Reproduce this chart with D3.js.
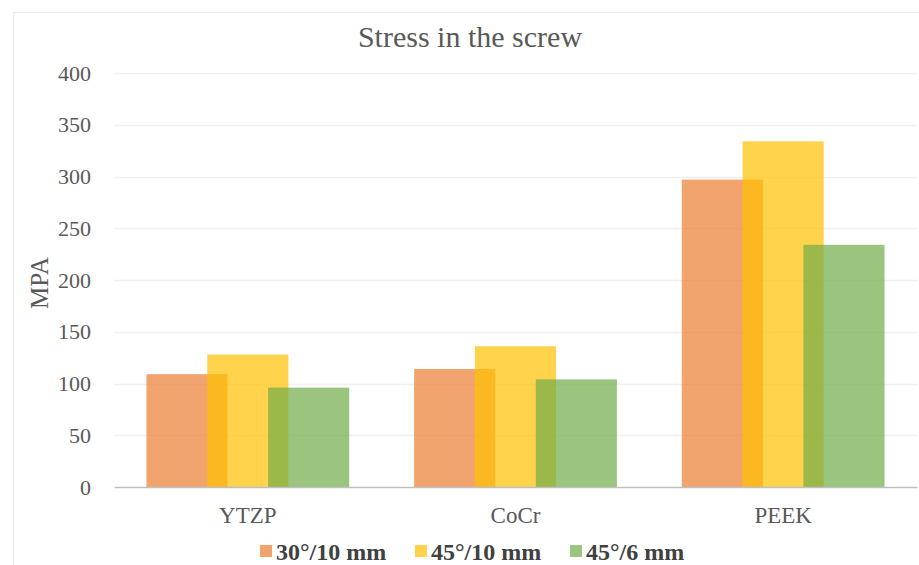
<!DOCTYPE html>
<html>
<head>
<meta charset="utf-8">
<script src="https://cdn.jsdelivr.net/npm/d3@7"></script>
<style>
  body { margin: 0; background: #fff; }
  text { font-family: "Liberation Serif", "Times New Roman", Times, serif; }
</style>
</head>
<body>
<div id="chart"></div>
<script>
// data
var categories = ["YTZP", "CoCr", "PEEK"];
var seriesNames = ["30°/10 mm", "45°/10 mm", "45°/6 mm"];
var stress30_10 = [109, 114, 297];
var stress45_10 = [128, 136, 334];
var stress45_6 = [96, 104, 234];
var yTicks = [0, 50, 100, 150, 200, 250, 300, 350, 400];
var colors = ["#ED7D31", "#FFC000", "#70AD47"];

var seriesValues = [stress30_10, stress45_10, stress45_6];
var serif = "'Liberation Serif', 'Times New Roman', Times, serif";

// svg container
var svgWidth = 919;
var svgHeight = 565;

var margin = { top: 73, right: 2, bottom: 78, left: 114 };
var width = svgWidth - margin.left - margin.right;
var height = svgHeight - margin.top - margin.bottom;

var svg = d3.select("#chart")
  .append("svg")
  .attr("width", svgWidth)
  .attr("height", svgHeight)
  .style("display", "block");

// faint chart border
svg.append("rect")
  .attr("x", 13.5)
  .attr("y", 12.5)
  .attr("width", svgWidth)
  .attr("height", svgHeight)
  .attr("fill", "none")
  .attr("stroke", "#EBEBEB");

svg.append("text")
  .attr("x", 470)
  .attr("y", 47)
  .attr("text-anchor", "middle")
  .style("font-family", serif)
  .attr("font-size", "30px")
  .attr("fill", "#595959")
  .text("Stress in the screw");

var chartGroup = svg.append("g")
  .attr("transform", `translate(${margin.left}, ${margin.top})`);

// scales
var xScale = d3.scaleBand()
  .domain(categories)
  .range([0, width]);

var yScale = d3.scaleLinear()
  .domain([0, 400])
  .range([height, 0]);

// gridlines
chartGroup.append("g")
  .selectAll("line")
  .data(yTicks.slice(1))
  .enter()
  .append("line")
  .attr("x1", 0)
  .attr("x2", width)
  .attr("y1", d => Math.round(yScale(d)) + 0.5)
  .attr("y2", d => Math.round(yScale(d)) + 0.5)
  .attr("stroke", "#F0F0F0")
  .attr("stroke-width", 1.5);

// y axis labels
var leftAxis = d3.axisLeft(yScale)
  .tickValues(yTicks)
  .tickSize(0)
  .tickPadding(23);

var yAxis = chartGroup.append("g").call(leftAxis).attr("font-family", null);
yAxis.select(".domain").remove();
yAxis.selectAll("text")
  .style("font-family", serif)
  .attr("font-size", "22px")
  .attr("fill", "#595959");

// bars: overlap 25%, gap 80% of bar width
var overlap = 0.25;
var gap = 0.8;
var barW = xScale.bandwidth() / (1 + (seriesNames.length - 1) * (1 - overlap) + gap);
var step = barW * (1 - overlap);
var groupW = barW + step * (seriesNames.length - 1);

seriesValues.forEach(function(vals, si) {
  chartGroup.append("g")
    .selectAll("rect")
    .data(vals)
    .enter()
    .append("rect")
    .attr("x", (d, i) => xScale(categories[i]) + (xScale.bandwidth() - groupW) / 2 + si * step)
    .attr("y", d => yScale(d))
    .attr("width", barW)
    .attr("height", d => height - yScale(d))
    .attr("fill", colors[si])
    .attr("fill-opacity", 0.7);
});

// x axis
var bottomAxis = d3.axisBottom(xScale).tickSize(0).tickPadding(20);
var xAxis = chartGroup.append("g")
  .attr("transform", `translate(0, ${height})`)
  .call(bottomAxis)
  .attr("font-family", null);
xAxis.select(".domain")
  .attr("stroke", "#BFBFBF")
  .attr("stroke-width", 1.5);
xAxis.selectAll("text")
  .style("font-family", serif)
  .attr("font-size", "23px")
  .attr("fill", "#595959");

// y axis title
svg.append("text")
  .attr("transform", "translate(48, 283) rotate(-90)")
  .attr("text-anchor", "middle")
  .style("font-family", serif)
  .attr("font-size", "25px")
  .attr("fill", "#595959")
  .text("MPA");

// legend
var legendX = [260, 415, 570];
var legend = svg.append("g");
seriesNames.forEach(function(name, i) {
  legend.append("rect")
    .attr("x", legendX[i])
    .attr("y", 545)
    .attr("width", 12)
    .attr("height", 12)
    .attr("fill", colors[i])
    .attr("fill-opacity", 0.7);
  legend.append("text")
    .attr("x", legendX[i] + 16)
    .attr("y", 560)
    .style("font-family", serif)
    .attr("font-size", "24px")
    .attr("font-weight", "bold")
    .attr("fill", "#404040")
    .text(name);
});
</script>
</body>
</html>
